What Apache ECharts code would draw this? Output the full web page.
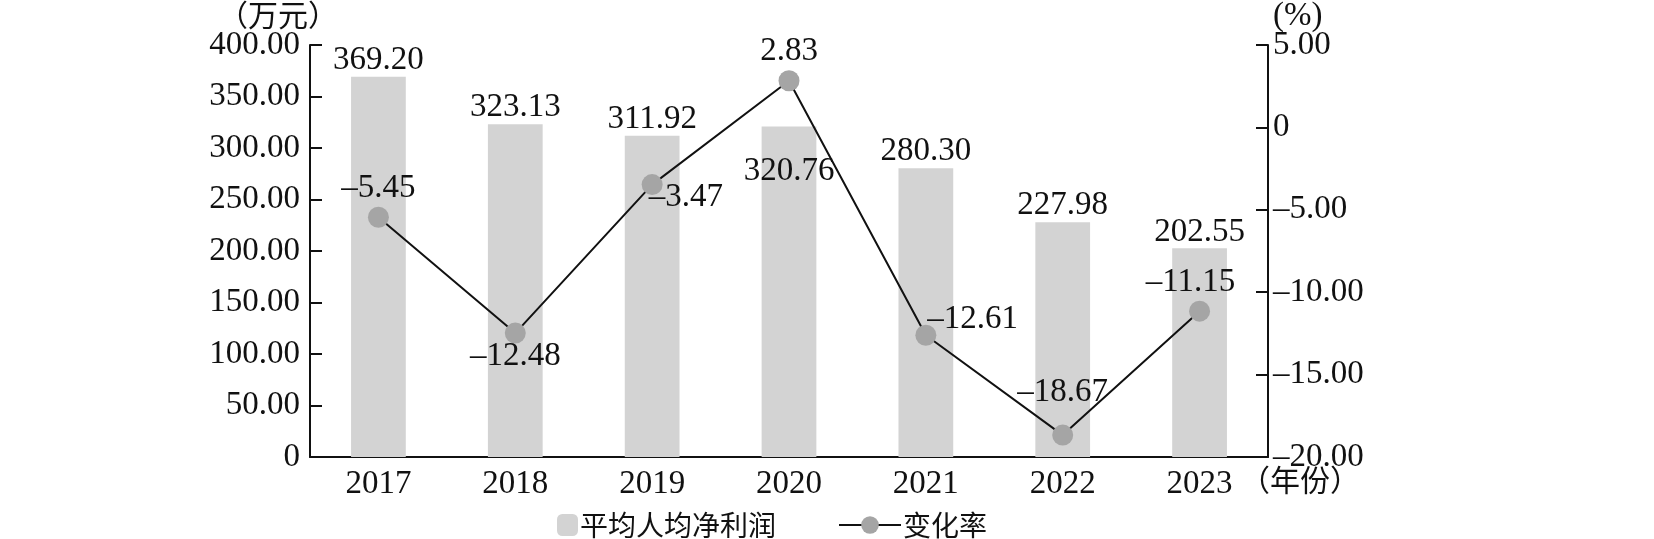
<!DOCTYPE html>
<html><head><meta charset="utf-8">
<script src="https://cdn.jsdelivr.net/npm/echarts@6/dist/echarts.min.js"></script>
<style>html,body{margin:0;padding:0;background:#fff}#c{width:1654px;height:539px}</style>
</head><body><div id="c"></div>
<script>
const years = ['2017','2018','2019','2020','2021','2022','2023'];
const profit = [369.20, 323.13, 311.92, 320.76, 280.30, 227.98, 202.55];
const rate = [-5.45, -12.48, -3.47, 2.83, -12.61, -18.67, -11.15];
const leftTicks = {min: 0, max: 400, interval: 50};
const rightTicks = {min: -20, max: 5, interval: 5};

const SERIF = '"Liberation Serif","Times New Roman",serif';
const CJK = '"Noto Sans CJK SC",sans-serif';
const FS = 33;
function fmt(v){ if (v === 0) return '0'; return (v < 0 ? '\u2013' : '') + Math.abs(v).toFixed(2); }

// label placement per point (style only)
const barLabelCfg = [null,null,null,{position:'insideTop', distance:28},null,null,null];
const lineLabelCfg = [
  {position:'top', distance:2},
  {position:'bottom', distance:-4},
  {position:'right', distance:-14, offset:[0,13]},
  {position:'top', distance:2},
  {position:'right', distance:-9, offset:[0,-16]},
  {position:'top', distance:16},
  {position:'top', distance:2, offset:[-9,0]}
];

const chart = echarts.init(document.getElementById('c'), null, {renderer:'canvas'});
chart.setOption({
  animation:false,
  backgroundColor:'#fff',
  grid:{left:310, right:386, top:45, bottom:82},
  legend:[
    {data:['平均人均净利润'], left:552, top:506, itemWidth:21, itemHeight:22, itemGap:0,
     textStyle:{fontFamily:CJK, fontSize:28, color:'#111', padding:[0,0,0,-3]}},
    {data:['变化率'], left:833, top:506, itemWidth:62, itemHeight:22,
     textStyle:{fontFamily:CJK, fontSize:28, color:'#111', padding:[0,0,0,-3]}}
  ],
  xAxis:{type:'category', data:years,
    axisLine:{lineStyle:{color:'#111', width:2}},
    axisTick:{inside:true, length:12, lineStyle:{color:'#111', width:2}},
    axisLabel:{fontFamily:SERIF, fontSize:FS, color:'#111', margin:11}},
  yAxis:[
    {type:'value', min:leftTicks.min, max:leftTicks.max, interval:leftTicks.interval,
     axisLine:{show:true, lineStyle:{color:'#111', width:2}},
     axisTick:{show:true, inside:true, length:12, lineStyle:{color:'#111', width:2}},
     splitLine:{show:false},
     axisLabel:{fontFamily:SERIF, fontSize:FS, color:'#111', margin:10, formatter:fmt}},
    {type:'value', min:rightTicks.min, max:rightTicks.max, interval:rightTicks.interval, position:'right',
     axisLine:{show:true, lineStyle:{color:'#111', width:2}},
     axisTick:{show:true, inside:true, length:12, lineStyle:{color:'#111', width:2}},
     splitLine:{show:false},
     axisLabel:{fontFamily:SERIF, fontSize:FS, color:'#111', margin:5, formatter:fmt}}
  ],
  series:[
    {name:'平均人均净利润', type:'bar', barWidth:'40%', yAxisIndex:0,
     itemStyle:{color:'#d3d3d3'},
     label:{show:true, position:'top', distance:0, fontFamily:SERIF, fontSize:FS, color:'#111', formatter:p=>p.value.toFixed(2)},
     data: profit.map((v,i)=> barLabelCfg[i] ? {value:v, label:barLabelCfg[i]} : v)},
    {name:'变化率', type:'line', yAxisIndex:1, symbol:'circle', symbolSize:21,
     lineStyle:{color:'#111', width:2}, itemStyle:{color:'#a5a5a5'},
     label:{show:true, fontFamily:SERIF, fontSize:FS, color:'#111', formatter:p=>fmt(p.value)},
     data: rate.map((v,i)=>({value:v, label:lineLabelCfg[i]}))}
  ],
  graphic:[
    {type:'text', left:218, top:0, style:{text:'（万元）', font:'30px '+CJK, fill:'#111'}},
    {type:'text', left:1273, top:0, style:{text:'(%)', font:FS+'px '+SERIF, fill:'#111'}},
    {type:'text', left:1240, top:465, style:{text:'（年份）', font:'30px '+CJK, fill:'#111'}}
  ]
});
</script></body></html>
